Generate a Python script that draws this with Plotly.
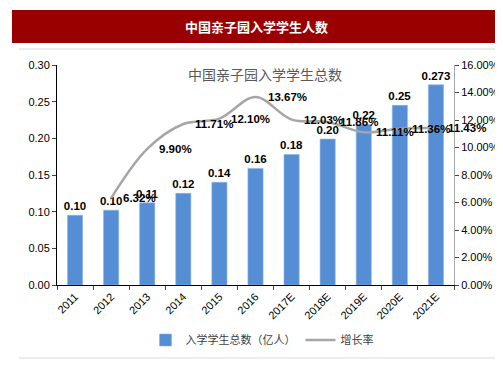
import plotly.graph_objects as go

years = ["2011", "2012", "2013", "2014", "2015", "2016", "2017E", "2018E", "2019E", "2020E", "2021E"]
students = [0.095, 0.102, 0.112, 0.125, 0.140, 0.159, 0.178, 0.199, 0.219, 0.245, 0.273]
student_labels = ["0.10", "0.10", "0.11", "0.12", "0.14", "0.16", "0.18", "0.20", "0.22", "0.25", "0.273"]
growth_years = ["2012", "2013", "2014", "2015", "2016", "2017E", "2018E", "2019E", "2020E", "2021E"]
growth = [6.32, 9.90, 11.71, 12.10, 13.67, 12.03, 11.86, 11.11, 11.36, 11.43]
growth_labels = ["6.32%", "9.90%", "11.71%", "12.10%", "13.67%", "12.03%", "11.86%", "11.11%", "11.36%", "11.43%"]

W, H = 503, 378
L, R, T, B = 49, 446, 57, 277


def px(x):
    return (x - L) / (R - L)


def py(y):
    return (B - y) / (B - T)


FONT = "Liberation Sans, Arial, sans-serif"
CJK = "Noto Sans CJK SC, sans-serif"

fig = go.Figure()
fig.add_trace(go.Bar(
    x=years, y=students, name="入学学生总数（亿人）",
    marker=dict(color="#558ED5", line=dict(color="#8DB3E2", width=0.6)),
    width=0.42,
    text=student_labels, textposition="outside", constraintext="none",
    textfont=dict(family=FONT, size=11.5, color="#000000", weight="bold"),
    cliponaxis=False,
))
fig.add_trace(go.Scatter(
    x=growth_years, y=growth, name="增长率", yaxis="y2",
    mode="lines", line=dict(color="#A6A6A6", width=2.5, shape="spline", smoothing=1.0),
    cliponaxis=False,
))

annotations = [
    dict(text="中国亲子园入学学生人数", xref="paper", yref="paper", x=px(248), y=py(18),
         showarrow=False, xanchor="center", yanchor="middle",
         font=dict(family=CJK, size=13, color="white", weight="bold")),
    dict(text="中国亲子园入学学生总数", xref="paper", yref="paper", x=px(257), y=py(66),
         showarrow=False, xanchor="center", yanchor="middle",
         font=dict(family=CJK, size=14, color="#595959")),
]
for gx, gy, gl in zip(growth_years, growth, growth_labels):
    annotations.append(dict(
        text=gl, x=years.index(gx), y=gy, xref="x", yref="y2", showarrow=False,
        xanchor="left", yanchor="middle", xshift=10,
        font=dict(family=FONT, size=11.5, color="#000000", weight="bold"),
    ))

fig.update_layout(
    width=W, height=H,
    margin=dict(l=L, r=W - R, t=T, b=H - B),
    paper_bgcolor="white", plot_bgcolor="white",
    font=dict(family=FONT, size=11, color="#000000"),
    showlegend=True,
    legend=dict(orientation="h", x=px(254), y=py(332), xanchor="center", yanchor="middle",
                font=dict(family=CJK, size=11, color="#404040"), itemwidth=30,
                bgcolor="rgba(0,0,0,0)"),
    xaxis=dict(type="category", range=[-0.5, len(years) - 0.5], tickangle=-45, ticks="outside",
               ticklen=4, tickson="boundaries",
               showline=True, linecolor="#000000", linewidth=1, showgrid=False,
               tickfont=dict(family=FONT, size=11, color="#000000")),
    yaxis=dict(range=[0, 0.30], dtick=0.05, tickformat=".2f", ticks="outside", ticklen=4,
               showline=True, linecolor="#000000", linewidth=1, showgrid=False, zeroline=False,
               tickfont=dict(family=FONT, size=11, color="#000000")),
    yaxis2=dict(range=[0, 16], dtick=2, tickformat=".2f", ticksuffix="%", overlaying="y", side="right",
                ticks="outside", ticklen=4, showline=True, linecolor="#A6A6A6", linewidth=1,
                showgrid=False, zeroline=False,
                tickfont=dict(family=FONT, size=11, color="#000000")),
    shapes=[
        dict(type="rect", xref="paper", yref="paper", x0=px(4), x1=px(492), y0=py(35), y1=py(2),
             fillcolor="#990000", line=dict(width=0), layer="above"),
        dict(type="line", xref="paper", yref="paper", x0=px(11), x1=px(492), y0=py(41), y1=py(41),
             line=dict(color="#D9D9D9", width=1)),
        dict(type="line", xref="paper", yref="paper", x0=px(11), x1=px(492), y0=py(350), y1=py(350),
             line=dict(color="#D9D9D9", width=1)),
    ],
    annotations=annotations,
)

fig.write_html("out.html")
